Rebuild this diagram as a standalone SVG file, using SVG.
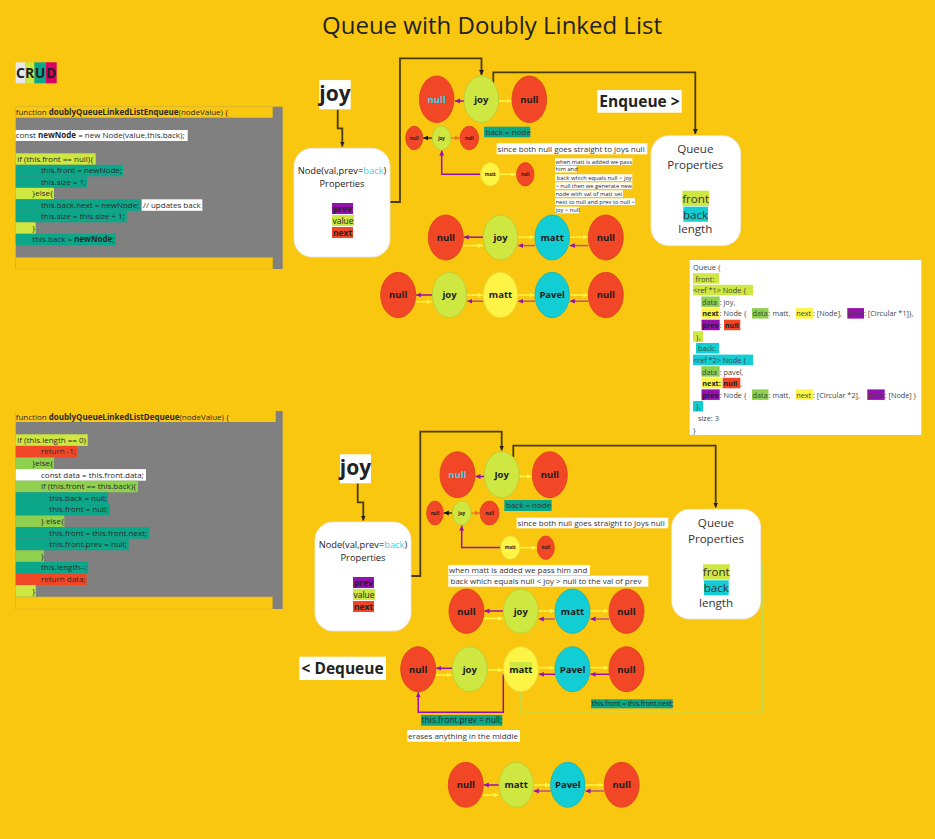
<svg xmlns="http://www.w3.org/2000/svg" width="935" height="839" viewBox="0 0 935 839">
<defs>
<style>
text{font-family:"Open Sans","Liberation Sans",sans-serif;fill:#222}
.code{font-size:8px;fill:#2a2a2a}
.b{font-weight:bold}
.red{fill:#F24726;stroke:#D83E1F;stroke-width:0.8}
.lime{fill:#CEE741;stroke:#B5CC36;stroke-width:0.8}
.cyan{fill:#12CDD4;stroke:#10B5BB;stroke-width:0.8}
.yel{fill:#FEF445;stroke:#E8DB3A;stroke-width:0.8}
.nt{font-size:9.5px;font-weight:bold;text-anchor:middle;fill:#1a1a1a}
.st{font-size:4.5px;font-weight:bold;text-anchor:middle;fill:#1a1a1a}
.ya{stroke:#FEF445;stroke-width:1.5;fill:none;marker-end:url(#ay)}
.pa{stroke:#9510AC;stroke-width:1.5;fill:none;marker-end:url(#ap)}
.ba{stroke:#B4567F;stroke-width:1.5;fill:none;marker-end:url(#ap)}
.fr{stroke:#4A3C00;stroke-width:1.8;fill:none}
.lbl{font-size:8px;fill:#333}
.box{fill:#fff;stroke:#e6e6e6;stroke-width:0.8}
.q{font-size:7.3px;fill:#444}
.qp{font-size:11.6px;text-anchor:middle;fill:#333}
</style>
<marker id="ay" markerUnits="userSpaceOnUse" markerWidth="6" markerHeight="6" refX="5" refY="3" orient="auto"><path d="M0,0.6L5,3L0,5.4z" fill="#FEF445"/></marker>
<marker id="ap" markerUnits="userSpaceOnUse" markerWidth="6" markerHeight="6" refX="5" refY="3" orient="auto"><path d="M0,0.6L5,3L0,5.4z" fill="#9510AC"/></marker>
<marker id="ak" markerUnits="userSpaceOnUse" markerWidth="6" markerHeight="6" refX="5" refY="3" orient="auto"><path d="M0,0.6L5,3L0,5.4z" fill="#111"/></marker>
<marker id="ao" markerUnits="userSpaceOnUse" markerWidth="6" markerHeight="6" refX="5" refY="3" orient="auto"><path d="M0,0.6L5,3L0,5.4z" fill="#F26B2C"/></marker>
<marker id="af" markerUnits="userSpaceOnUse" markerWidth="7" markerHeight="7" refX="5" refY="3" orient="auto"><path d="M0,0.5L5,3L0,5.5z" fill="#222"/></marker>
<marker id="ag" markerUnits="userSpaceOnUse" markerWidth="6" markerHeight="6" refX="5" refY="3" orient="auto"><path d="M0,0.6L5,3L0,5.4z" fill="#C5DB4E"/></marker>
</defs>
<rect width="935" height="839" fill="#FAC710"/>

<text x="492" y="34" font-size="24" text-anchor="middle" fill="#1a1a1a">Queue with Doubly Linked List</text>

<g id="crud">
<rect x="15.7" y="62.3" width="9.3" height="21" fill="#E8E8E8"/>
<rect x="25" y="62.3" width="9.3" height="21" fill="#CEE741"/>
<rect x="34.3" y="62.3" width="11.4" height="21" fill="#0CA789"/>
<rect x="45.7" y="62.3" width="11" height="21" fill="#DA0063"/>
<text x="20.4" y="78" font-size="14" font-weight="bold" text-anchor="middle">C</text>
<text x="29.7" y="78" font-size="14" font-weight="bold" text-anchor="middle">R</text>
<text x="40" y="78" font-size="14" font-weight="bold" text-anchor="middle">U</text>
<text x="51.2" y="78" font-size="14" font-weight="bold" text-anchor="middle">D</text>
</g>

<g id="enqueue-code">
<rect x="15.7" y="106.7" width="267" height="162.3" fill="#808080"/>
<rect x="15.7" y="106.7" width="257" height="11" fill="#FAC710"/>
<rect x="15.7" y="257.7" width="257" height="11.3" fill="#FAC710" stroke="#E2B40E" stroke-width="0.6"/>
<text class="code" x="15.7" y="115.2">function <tspan class="b">doublyQueueLinkedListEnqueue</tspan>(nodeValue) {</text>
<rect x="15.7" y="130" width="172" height="11" fill="#fff"/>
<text class="code" x="15.7" y="138.4">const <tspan class="b">newNode</tspan> = new Node(value,this.back);</text>
<rect x="15.7" y="153.3" width="80" height="11.5" fill="#CEE741"/>
<text class="code" x="17.3" y="161.8">if (this.front == null){</text>
<rect x="15.7" y="164.8" width="107.3" height="11.5" fill="#0CA789"/>
<text class="code" x="41" y="173.3">this.front = newNode;</text>
<rect x="15.7" y="176.3" width="71.3" height="11.5" fill="#0CA789"/>
<text class="code" x="41" y="184.8">this.size = 1;</text>
<rect x="15.7" y="187.8" width="38.3" height="11.5" fill="#CEE741"/>
<text class="code" x="32.3" y="196.3">}else{</text>
<rect x="15.7" y="199.3" width="125" height="11.5" fill="#0CA789"/>
<text class="code" x="41" y="207.8">this.back.next = newNode;</text>
<rect x="141.7" y="199.3" width="60.6" height="11.5" fill="#fff"/>
<text class="code" x="143" y="207.8">// updates back</text>
<rect x="15.7" y="210.8" width="111" height="11.5" fill="#0CA789"/>
<text class="code" x="41" y="219.3">this.size = this.size + 1;</text>
<rect x="15.7" y="222.3" width="20" height="11.5" fill="#CEE741"/>
<text class="code" x="32.3" y="230.8">}</text>
<rect x="15.7" y="233.8" width="100.3" height="11.5" fill="#0CA789"/>
<text class="code" x="32.3" y="242.3">this.back = <tspan class="b">newNode</tspan>;</text>
</g>

<g id="dequeue-code">
<rect x="15.7" y="411" width="267" height="198" fill="#808080"/>
<rect x="15.7" y="411" width="260" height="11" fill="#FAC710"/>
<rect x="15.7" y="597" width="256.6" height="12" fill="#FAC710" stroke="#E2B40E" stroke-width="0.6"/>
<text class="code" x="15.7" y="419.5">function <tspan class="b">doublyQueueLinkedListDequeue</tspan>(nodeValue) {</text>
<rect x="15.7" y="434.3" width="72" height="11.6" fill="#CEE741"/>
<text class="code" x="17.3" y="442.8">if (this.length == 0)</text>
<rect x="15.7" y="445.9" width="61.3" height="11.6" fill="#F24726"/>
<text class="code" x="41" y="454.4">return -1;</text>
<rect x="15.7" y="457.5" width="38.3" height="11.6" fill="#8FD14F"/>
<text class="code" x="32.3" y="466">}else{</text>
<rect x="15.7" y="469.1" width="130.3" height="11.6" fill="#fff"/>
<text class="code" x="41" y="477.6">const data = this.front.data;</text>
<rect x="15.7" y="480.7" width="122.3" height="11.6" fill="#8FD14F"/>
<text class="code" x="41" y="489.2">if (this.front == this.back){</text>
<rect x="15.7" y="492.3" width="92.3" height="11.6" fill="#0CA789"/>
<text class="code" x="49.3" y="500.8">this.back = null;</text>
<rect x="15.7" y="503.9" width="94.3" height="11.6" fill="#0CA789"/>
<text class="code" x="49.3" y="512.4">this.front = null;</text>
<rect x="15.7" y="515.5" width="48.6" height="11.6" fill="#8FD14F"/>
<text class="code" x="41" y="524">} else{</text>
<rect x="15.7" y="527.1" width="133.6" height="11.6" fill="#0CA789"/>
<text class="code" x="49.3" y="535.6">this.front = this.front.next;</text>
<rect x="15.7" y="538.7" width="113" height="11.6" fill="#0CA789"/>
<text class="code" x="49.3" y="547.2">this.front.prev = null;</text>
<rect x="15.7" y="550.3" width="28.3" height="11.6" fill="#8FD14F"/>
<text class="code" x="41" y="558.8">}</text>
<rect x="15.7" y="561.9" width="72.6" height="11.6" fill="#0CA789"/>
<text class="code" x="41" y="570.4">this.length--;</text>
<rect x="15.7" y="573.5" width="71" height="11.6" fill="#F24726"/>
<text class="code" x="41" y="582">return data;</text>
<rect x="15.7" y="585.1" width="20" height="11.6" fill="#CEE741"/>
<text class="code" x="32.3" y="593.6">}</text>
</g>

<g id="connectors">
<path class="fr" d="M390,202H400V58.3H481.5V75" marker-end="url(#af)"/>
<path class="fr" d="M493.3,83V72.3H695.3V134" marker-end="url(#af)"/>
<path class="fr" d="M337.7,109.5V128.3H342.3V146.5" stroke="#111" marker-end="url(#af)"/>
<path class="fr" d="M411,576H420.3V431.7H501.7V450.5" marker-end="url(#af)"/>
<path class="fr" d="M513.3,457V445.7H715.7V507.5" marker-end="url(#af)"/>
<path class="fr" d="M357.7,483.5V502.3H363.3V520.5" marker-end="url(#af)"/>
<line class="pa" x1="464" y1="101" x2="455" y2="101"/>
<line class="ya" x1="498.7" y1="101" x2="511.5" y2="101"/>
<line x1="432.3" y1="138" x2="423.2" y2="138" stroke="#111" stroke-width="1.2" marker-end="url(#ak)"/>
<line x1="450.7" y1="138" x2="459.5" y2="138" stroke="#F26B2C" stroke-width="1.2" marker-end="url(#ao)"/>
<line class="ya" x1="500" y1="174.3" x2="516.2" y2="174.3" stroke-width="1.2"/>
<path class="pa" d="M480.6,174.3H441.7V150.5" stroke-width="1.3"/>
<line class="pa" x1="483.3" y1="237.2" x2="463.8" y2="237.2"/>
<line class="ya" x1="463.3" y1="245.6" x2="482.8" y2="245.6"/>
<line class="ya" x1="517.7" y1="237.2" x2="534.5" y2="237.2"/>
<line class="ba" x1="535" y1="245.6" x2="518.2" y2="245.6"/>
<line class="ya" x1="569.3" y1="237.2" x2="587.8" y2="237.2"/>
<line class="ba" x1="588.3" y1="245.6" x2="569.8" y2="245.6"/>
<line class="pa" x1="432.3" y1="295" x2="416.2" y2="295"/>
<line class="ya" x1="415.7" y1="301.7" x2="431.8" y2="301.7"/>
<line class="ya" x1="466.7" y1="295" x2="482.8" y2="295"/>
<line class="ba" x1="483.3" y1="301.2" x2="467.2" y2="301.2"/>
<line class="ya" x1="517.7" y1="295" x2="534.5" y2="295"/>
<line class="ba" x1="535" y1="301.2" x2="518.2" y2="301.2"/>
<line class="ya" x1="569.3" y1="295" x2="587.8" y2="295"/>
<line class="ba" x1="588.3" y1="301.2" x2="569.8" y2="301.2"/>
<line class="pa" x1="484.3" y1="476.5" x2="475.5" y2="476.5"/>
<line class="ya" x1="519" y1="476.5" x2="531.8" y2="476.5"/>
<line x1="452.4" y1="513" x2="443.8" y2="513" stroke="#111" stroke-width="1.2" marker-end="url(#ak)"/>
<line x1="471" y1="513" x2="479.5" y2="513" stroke="#F26B2C" stroke-width="1.2" marker-end="url(#ao)"/>
<line class="ya" x1="520" y1="547.7" x2="536.8" y2="547.7" stroke-width="1.2"/>
<path class="pa" d="M500.6,547.5H461.7V525.5" stroke-width="1.3"/>
<line class="pa" x1="503.3" y1="611" x2="484.5" y2="611"/>
<line class="ya" x1="484" y1="618.5" x2="502.8" y2="618.5"/>
<line class="ya" x1="538.3" y1="611" x2="554.5" y2="611"/>
<line class="ba" x1="555" y1="619" x2="538.8" y2="619"/>
<line class="ya" x1="590" y1="611" x2="608.5" y2="611"/>
<line class="ba" x1="609" y1="619" x2="590.5" y2="619"/>
<line class="pa" x1="452.3" y1="668.3" x2="436.2" y2="668.3"/>
<line class="ya" x1="435.7" y1="675" x2="451.8" y2="675"/>
<line class="ya" x1="487.3" y1="670" x2="502.8" y2="670"/>
<line class="ya" x1="538.3" y1="667.7" x2="554.5" y2="667.7"/>
<line class="pa" x1="555" y1="674.3" x2="538.8" y2="674.3"/>
<line class="ya" x1="590" y1="667.7" x2="608.5" y2="667.7"/>
<line class="pa" x1="609" y1="674.3" x2="590.5" y2="674.3"/>
<path d="M503.3,674V712.3H418.3V692.3" stroke="#9510AC" stroke-width="1.5" fill="none" marker-end="url(#ap)"/>
<path d="M760.7,563H762.8V711.7H521V692.3" stroke="#C5DB4E" stroke-width="1.5" fill="none" marker-end="url(#ag)"/>
<line class="pa" x1="499" y1="785" x2="483.8" y2="785"/>
<line class="ya" x1="483.3" y1="795" x2="498.5" y2="795"/>
<line class="ya" x1="533.3" y1="785" x2="550.2" y2="785"/>
<line class="ba" x1="550.7" y1="791" x2="533.8" y2="791"/>
<line class="ya" x1="585" y1="785" x2="603.8" y2="785"/>
<line class="ba" x1="604.3" y1="791" x2="585.5" y2="791"/>
</g>

<g id="joy-label-1">
<rect x="319.3" y="80" width="31.4" height="29.3" fill="#fff"/>
<text x="335" y="101" font-size="21" font-weight="bold" text-anchor="middle" fill="#1a1a1a">joy</text>
</g>
<g id="joy-label-2">
<rect x="340" y="454.3" width="31" height="29" fill="#fff"/>
<text x="355.5" y="475.3" font-size="21" font-weight="bold" text-anchor="middle" fill="#1a1a1a">joy</text>
</g>

<g id="node-props-1">
<rect x="294" y="148.3" width="96" height="108.7" rx="18" class="box"/>
<text x="342" y="174" font-size="9.3" text-anchor="middle" fill="#444">Node(val,prev=<tspan fill="#3ED0E6">back</tspan>)</text>
<text x="342" y="186.5" font-size="9.3" text-anchor="middle" fill="#444">Properties</text>
<rect x="332" y="203" width="21" height="11" fill="#9510AC"/>
<text x="342.5" y="211.6" font-size="8.5" font-weight="bold" text-anchor="middle" fill="#FEF445">prev</text>
<rect x="332" y="215" width="22" height="11" fill="#CEE741"/>
<text x="343" y="223.6" font-size="8.5" text-anchor="middle" fill="#444">value</text>
<rect x="332" y="227" width="21" height="11" fill="#F24726"/>
<text x="342.5" y="235.6" font-size="8.5" font-weight="bold" text-anchor="middle" fill="#FEF445">next</text>
</g>
<g id="node-props-2">
<rect x="315" y="522" width="96" height="109" rx="18" class="box"/>
<text x="363" y="548" font-size="9.3" text-anchor="middle" fill="#444">Node(val,prev=<tspan fill="#3ED0E6">back</tspan>)</text>
<text x="363" y="560.5" font-size="9.3" text-anchor="middle" fill="#444">Properties</text>
<rect x="353" y="577" width="21" height="11" fill="#9510AC"/>
<text x="363.5" y="585.6" font-size="8.5" font-weight="bold" text-anchor="middle" fill="#FEF445">prev</text>
<rect x="353" y="589" width="22" height="11" fill="#CEE741"/>
<text x="364" y="597.6" font-size="8.5" text-anchor="middle" fill="#444">value</text>
<rect x="353" y="601" width="21" height="11" fill="#F24726"/>
<text x="363.5" y="609.6" font-size="8.5" font-weight="bold" text-anchor="middle" fill="#FEF445">next</text>
</g>

<g id="queue-props-1">
<rect x="651" y="135.7" width="89.7" height="110" rx="18" class="box"/>
<text class="qp" x="695.3" y="153">Queue</text>
<text class="qp" x="695.3" y="169">Properties</text>
<rect x="682.3" y="190.7" width="26.7" height="15.3" fill="#CEE741"/>
<text class="qp" x="695.6" y="202.8">front</text>
<rect x="683.3" y="206.7" width="24.7" height="15" fill="#12CDD4"/>
<text class="qp" x="695.6" y="218.6">back</text>
<text class="qp" x="695.3" y="233">length</text>
</g>
<g id="queue-props-2">
<rect x="671.7" y="509.3" width="89" height="109.7" rx="18" class="box"/>
<text class="qp" x="716" y="526.6">Queue</text>
<text class="qp" x="716" y="542.6">Properties</text>
<rect x="703" y="564.3" width="26.7" height="15.3" fill="#CEE741"/>
<text class="qp" x="716.3" y="576.4">front</text>
<rect x="704" y="580.3" width="24.7" height="15" fill="#12CDD4"/>
<text class="qp" x="716.3" y="592.2">back</text>
<text class="qp" x="716" y="606.6">length</text>
</g>

<g id="enqueue-label">
<rect x="597.3" y="90" width="84.4" height="22.7" fill="#fff"/>
<text x="639.5" y="107" font-size="15.5" font-weight="bold" text-anchor="middle" fill="#1a1a1a">Enqueue &gt;</text>
</g>
<g id="dequeue-label">
<rect x="299.3" y="656.7" width="86.7" height="23.3" fill="#fff"/>
<text x="342.6" y="674" font-size="15.5" font-weight="bold" text-anchor="middle" fill="#1a1a1a">&lt; Dequeue</text>
</g>

<g id="enqueue-notes">
<rect x="484" y="126.7" width="46.3" height="10.6" fill="#0CA789"/>
<text class="lbl" x="485.5" y="134.8">back = node</text>
<rect x="496.7" y="143.3" width="150.6" height="11" fill="#fff"/>
<text class="lbl" x="497.6" y="151.8">since both null goes straight to joys null</text>
<rect x="555" y="158.3" width="77.3" height="6.7" fill="#fff"/>
<text x="555.5" y="163.8" font-size="5.8" fill="#555">when matt is added we pass</text>
<rect x="555" y="166" width="21.7" height="6.3" fill="#fff"/>
<text x="555.5" y="171.2" font-size="5.8" fill="#555">him and</text>
<rect x="555" y="174.3" width="77.3" height="6.7" fill="#fff"/>
<text x="556.8" y="179.8" font-size="5.8" fill="#555">back which equals null &lt; joy</text>
<rect x="555" y="182.3" width="77.3" height="6.7" fill="#fff"/>
<text x="555.5" y="187.8" font-size="5.8" fill="#555">&gt; null then we generate new</text>
<rect x="555" y="190.3" width="68" height="6.7" fill="#fff"/>
<text x="555.5" y="195.8" font-size="5.8" fill="#555">node with val of matt  set</text>
<rect x="555" y="198.3" width="80" height="6.7" fill="#fff"/>
<text x="555.5" y="203.8" font-size="5.8" fill="#555">next to null and prev to null &lt;</text>
<rect x="555" y="206.7" width="24" height="6.6" fill="#fff"/>
<text x="555.5" y="212.2" font-size="5.8" fill="#555">joy &gt; null</text>
</g>

<g id="dequeue-notes">
<rect x="504.3" y="500" width="47.4" height="11" fill="#0CA789"/>
<text class="lbl" x="506" y="508.4">back = node</text>
<rect x="516.7" y="517.7" width="151.6" height="10.6" fill="#fff"/>
<text class="lbl" x="517.6" y="526">since both null goes straight to joys null</text>
<rect x="448.3" y="565" width="141.7" height="10" fill="#fff"/>
<text class="lbl" x="449" y="573">when matt is added we pass him and</text>
<rect x="448.3" y="575.7" width="200" height="11" fill="#fff"/>
<text class="lbl" x="450.5" y="584">back which equals null &lt; joy &gt; null to the val of prev</text>
<rect x="591" y="699.3" width="81.7" height="9" fill="#0CA789"/>
<text x="591.8" y="706.4" font-size="6.7" fill="#333">this.front = this.front.next;</text>
<rect x="421" y="715" width="81.3" height="10.7" fill="#0CA789"/>
<text x="421.8" y="723.3" font-size="8.3" fill="#333">this.front.prev = null;</text>
<rect x="407.3" y="730" width="112.7" height="11.7" fill="#fff"/>
<text class="lbl" x="408" y="738.8">erases anything in the middle</text>
</g>

<g id="queue-object">
<rect x="689.7" y="260" width="231.6" height="175" fill="#fff"/>
<rect x="693" y="273.2" width="26" height="10.5" fill="#CEE741"/>
<rect x="693" y="284.8" width="60" height="10.5" fill="#CEE741"/>
<rect x="701.3" y="296.5" width="18.4" height="10.5" fill="#8FD14F"/>
<rect x="701.5" y="308.1" width="18.2" height="10.5" fill="#FEF445"/>
<rect x="752" y="308.1" width="16.5" height="10.5" fill="#8FD14F"/>
<rect x="795.7" y="308.1" width="17.3" height="10.5" fill="#FEF445"/>
<rect x="847.3" y="308.1" width="16.7" height="10.5" fill="#9510AC"/>
<rect x="701.5" y="319.7" width="18.2" height="10.5" fill="#9510AC"/>
<rect x="724" y="319.7" width="16.3" height="10.5" fill="#F24726"/>
<rect x="693" y="331.3" width="10" height="10.5" fill="#CEE741"/>
<rect x="696" y="343" width="23" height="10.5" fill="#12CDD4"/>
<rect x="693" y="354.6" width="60" height="10.5" fill="#12CDD4"/>
<rect x="701.3" y="366.2" width="18.4" height="10.5" fill="#8FD14F"/>
<rect x="701.5" y="377.8" width="20.8" height="10.5" fill="#FEF445"/>
<rect x="722.7" y="377.8" width="17.6" height="10.5" fill="#F24726"/>
<rect x="701.5" y="389.4" width="18.2" height="10.5" fill="#9510AC"/>
<rect x="752" y="389.4" width="16.5" height="10.5" fill="#8FD14F"/>
<rect x="795.7" y="389.4" width="17.3" height="10.5" fill="#FEF445"/>
<rect x="867.3" y="389.4" width="17.4" height="10.5" fill="#9510AC"/>
<rect x="693" y="401" width="10" height="10.5" fill="#12CDD4"/>
<text class="q" x="693" y="269.9">Queue {</text>
<text class="q" x="695.5" y="281.5">front:</text>
<text class="q" x="693" y="293.1">&lt;ref *1&gt; Node {</text>
<text class="q" y="304.8"><tspan x="702">data</tspan><tspan x="719.7">: joy,</tspan></text>
<text class="q" y="316.4"><tspan x="702.3" font-weight="bold" fill="#222">next</tspan><tspan x="719.7">: Node {</tspan><tspan x="752.6">data</tspan><tspan x="768.6">: matt,</tspan><tspan x="796.2">next</tspan><tspan x="813">: [Node],</tspan><tspan x="847.8">prev</tspan><tspan x="864">: [Circular *1]},</tspan></text>
<text class="q" y="328"><tspan x="702.3" font-weight="bold" fill="#222">prev</tspan><tspan x="719.7">: </tspan><tspan x="724.8" font-weight="bold" fill="#222">null</tspan></text>
<text class="q" x="696" y="339.6">},</text>
<text class="q" x="698" y="351.3">back:</text>
<text class="q" x="693" y="362.9">&lt;ref *2&gt; Node {</text>
<text class="q" y="374.5"><tspan x="702">data</tspan><tspan x="719.7">: pavel,</tspan></text>
<text class="q" y="386.1"><tspan x="702.3" font-weight="bold" fill="#222">next:</tspan><tspan x="723.3" font-weight="bold" fill="#222">null</tspan><tspan x="740.3">,</tspan></text>
<text class="q" y="397.7"><tspan x="702.3" font-weight="bold" fill="#222">prev</tspan><tspan x="719.7">: Node {</tspan><tspan x="752.6">data</tspan><tspan x="768.6">: matt,</tspan><tspan x="796.2">next</tspan><tspan x="813">: [Circular *2],</tspan><tspan x="867.8">prev</tspan><tspan x="884.7">: [Node] }</tspan></text>
<text class="q" x="696" y="409.3">},</text>
<text class="q" x="698" y="421">size: 3</text>
<text class="q" x="693" y="432.6">}</text>
</g>

<g id="e-top-null-prev"><ellipse class="red" cx="436.7" cy="99.3" rx="17.3" ry="23.3"/><text class="nt" x="436.7" y="102.6" style="fill:#3ED0E6">null</text></g>
<g id="e-top-joy"><ellipse class="lime" cx="481.3" cy="99.3" rx="17.3" ry="23.3"/><text class="nt" x="481.3" y="102.6">joy</text></g>
<g id="e-top-null-next"><ellipse class="red" cx="529.3" cy="99.3" rx="17.3" ry="23.3"/><text class="nt" x="529.3" y="102.6">null</text></g>
<g id="e-small-null1"><ellipse class="red" cx="414.2" cy="138" rx="8.5" ry="11.8"/><text class="st" x="414.2" y="139.6">null</text></g>
<g id="e-small-joy"><ellipse class="lime" cx="441.5" cy="138" rx="9.2" ry="12"/><text class="st" x="441.5" y="139.6">joy</text></g>
<g id="e-small-null2"><ellipse class="red" cx="469.3" cy="138" rx="9.3" ry="11.8"/><text class="st" x="469.3" y="139.6">null</text></g>
<g id="e-small-matt"><ellipse class="yel" cx="490.3" cy="174.3" rx="9.7" ry="11.7"/><text class="st" x="490.3" y="175.9">matt</text></g>
<g id="e-small-null3"><ellipse class="red" cx="525.3" cy="174.3" rx="8.7" ry="11.7"/><text class="st" x="525.3" y="175.9">null</text></g>

<g id="e-r4-null1"><ellipse class="red" cx="445.8" cy="237.5" rx="17.5" ry="22.5"/><text class="nt" x="445.8" y="240.8">null</text></g>
<g id="e-r4-joy"><ellipse class="lime" cx="500.5" cy="237.5" rx="17.2" ry="22.5"/><text class="nt" x="500.5" y="240.8">joy</text></g>
<g id="e-r4-matt"><ellipse class="cyan" cx="552.2" cy="237.5" rx="17.2" ry="22.5"/><text class="nt" x="552.2" y="240.8">matt</text></g>
<g id="e-r4-null2"><ellipse class="red" cx="605.8" cy="237.5" rx="17.5" ry="22.5"/><text class="nt" x="605.8" y="240.8">null</text></g>

<g id="e-r5-null1"><ellipse class="red" cx="398.2" cy="295" rx="17.5" ry="22.7"/><text class="nt" x="398.2" y="298.3">null</text></g>
<g id="e-r5-joy"><ellipse class="lime" cx="449.5" cy="295" rx="17.2" ry="22.7"/><text class="nt" x="449.5" y="298.3">joy</text></g>
<g id="e-r5-matt"><ellipse class="yel" cx="500.5" cy="295" rx="17.2" ry="22.7"/><text class="nt" x="500.5" y="298.3">matt</text></g>
<g id="e-r5-pavel"><ellipse class="cyan" cx="552.2" cy="295" rx="17.2" ry="22.7"/><text class="nt" x="552.2" y="298.3">Pavel</text></g>
<g id="e-r5-null2"><ellipse class="red" cx="605.8" cy="295" rx="17.5" ry="22.7"/><text class="nt" x="605.8" y="298.3">null</text></g>

<g id="d-top-null-prev"><ellipse class="red" cx="457.5" cy="474.7" rx="17.5" ry="23"/><text class="nt" x="457.5" y="478" style="fill:#3ED0E6">null</text></g>
<g id="d-top-joy"><ellipse class="lime" cx="501.7" cy="474.7" rx="17.4" ry="23"/><text class="nt" x="501.7" y="478" font-weight="normal">Joy</text></g>
<g id="d-top-null-next"><ellipse class="red" cx="549.8" cy="474.7" rx="17.5" ry="23"/><text class="nt" x="549.8" y="478">null</text></g>
<g id="d-small-null1"><ellipse class="red" cx="435" cy="513" rx="8.3" ry="12"/><text class="st" x="435" y="514.6">null</text></g>
<g id="d-small-joy"><ellipse class="lime" cx="461.7" cy="513" rx="9.3" ry="12"/><text class="st" x="461.7" y="514.6">joy</text></g>
<g id="d-small-null2"><ellipse class="red" cx="489.5" cy="513" rx="9.5" ry="12"/><text class="st" x="489.5" y="514.6">null</text></g>
<g id="d-small-matt"><ellipse class="yel" cx="510.3" cy="547.7" rx="9.7" ry="11.7"/><text class="st" x="510.3" y="549.3">matt</text></g>
<g id="d-small-null3"><ellipse class="red" cx="545.8" cy="547.7" rx="8.5" ry="11.7"/><text class="st" x="545.8" y="549.3">null</text></g>

<g id="d-r1-null1"><ellipse class="red" cx="466.5" cy="611.2" rx="17.5" ry="22.2"/><text class="nt" x="466.5" y="614.5">null</text></g>
<g id="d-r1-joy"><ellipse class="lime" cx="520.8" cy="611.2" rx="17.5" ry="22.2"/><text class="nt" x="520.8" y="614.5">joy</text></g>
<g id="d-r1-matt"><ellipse class="cyan" cx="572.5" cy="611.2" rx="17.5" ry="22.2"/><text class="nt" x="572.5" y="614.5">matt</text></g>
<g id="d-r1-null2"><ellipse class="red" cx="626.5" cy="611.2" rx="17.5" ry="22.2"/><text class="nt" x="626.5" y="614.5">null</text></g>

<g id="d-r2-null1"><ellipse class="red" cx="418.2" cy="669.2" rx="17.5" ry="22.5"/><text class="nt" x="418.2" y="672.5">null</text></g>
<g id="d-r2-joy"><ellipse class="lime" cx="469.8" cy="669.2" rx="17.5" ry="22.5"/><text class="nt" x="469.8" y="672.5">joy</text></g>
<g id="d-r2-matt"><ellipse class="yel" cx="520.8" cy="669.2" rx="17.5" ry="22.5"/><rect x="509.5" y="662" width="22.6" height="11" fill="#CEE741"/><text class="nt" x="520.8" y="672.5">matt</text></g>
<g id="d-r2-pavel"><ellipse class="cyan" cx="572.5" cy="669.2" rx="17.5" ry="22.5"/><text class="nt" x="572.5" y="672.5">Pavel</text></g>
<g id="d-r2-null2"><ellipse class="red" cx="626.5" cy="669.2" rx="17.5" ry="22.5"/><text class="nt" x="626.5" y="672.5">null</text></g>

<g id="d-r3-null1"><ellipse class="red" cx="465.8" cy="784.8" rx="17.5" ry="22.5"/><text class="nt" x="465.8" y="788.1">null</text></g>
<g id="d-r3-matt"><ellipse class="lime" cx="516.2" cy="784.8" rx="17.2" ry="22.5"/><text class="nt" x="516.2" y="788.1">matt</text></g>
<g id="d-r3-pavel"><ellipse class="cyan" cx="567.8" cy="784.8" rx="17.2" ry="22.5"/><text class="nt" x="567.8" y="788.1">Pavel</text></g>
<g id="d-r3-null2"><ellipse class="red" cx="621.7" cy="784.8" rx="17.5" ry="22.5"/><text class="nt" x="621.7" y="788.1">null</text></g>
</svg>
